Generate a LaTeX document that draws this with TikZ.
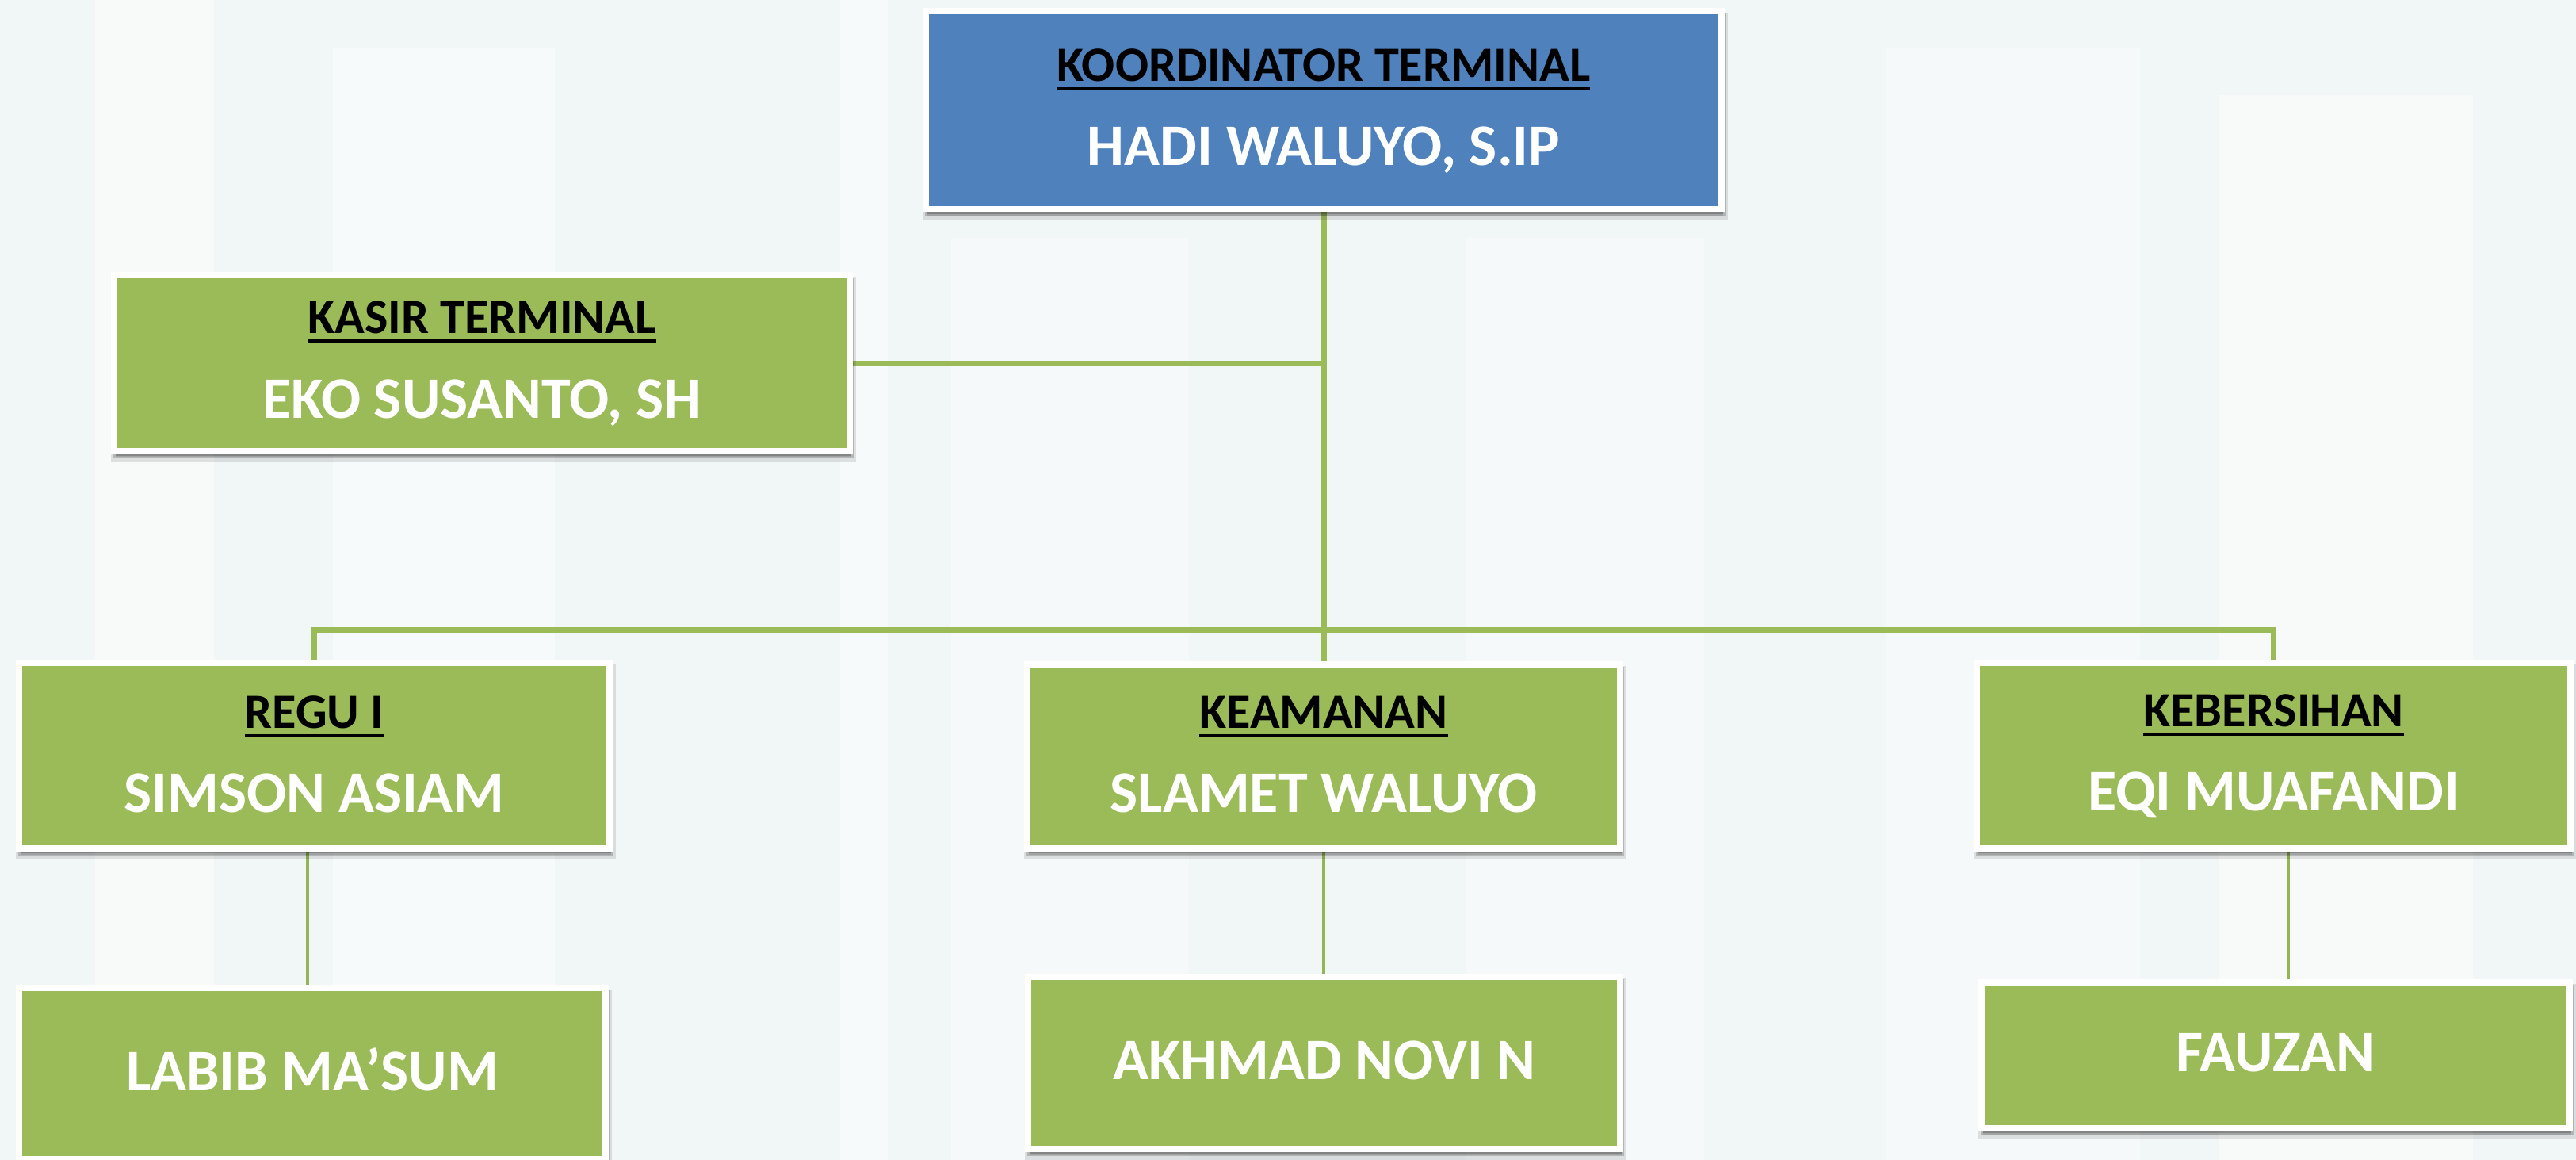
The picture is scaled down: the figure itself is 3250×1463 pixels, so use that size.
\documentclass[tikz,border=0pt]{standalone}
\usepackage{fontspec}
\setmainfont{Carlito}
\usetikzlibrary{shadows,calc}
\definecolor{kblue}{HTML}{4F81BD}
\definecolor{kgreen}{HTML}{9BBB59}
\definecolor{kline}{HTML}{93B553}
\definecolor{kbg}{HTML}{F1F6F6}
\pgfdeclarelayer{bglayer}
\pgfdeclarelayer{lines}
\pgfsetlayers{bglayer,lines,main}
\newcommand{\ulbar}[1]{\setbox0=\hbox{#1}\rlap{\rule[-0.115cm]{\wd0}{0.035cm}}\box0}
\tikzset{
  box/.style={rectangle, draw=white, line width=0.08cm, fill=kgreen, inner sep=0pt,
    general shadow={fill=black, draw=black, line width=0.12cm, opacity=0.10, shadow xshift=0.02cm, shadow yshift=-0.08cm},
    general shadow={fill=black, draw=black, line width=0.06cm, opacity=0.18, shadow xshift=0.02cm, shadow yshift=-0.06cm}},
  topbox/.style={box, fill=kblue},
  titletext/.style={anchor=base, inner sep=0pt, text=black, font=\fontsize{17.7pt}{20pt}\selectfont\bfseries},
  nametext/.style={anchor=base, inner sep=0pt, text=white, font=\fontsize{21.1pt}{24pt}\selectfont\bfseries},
  conn/.style={draw=kgreen, line width=0.07cm},
  connlow/.style={draw=kline, line width=0.045cm},
}
\begin{document}
\begin{tikzpicture}[x=0.01cm, y=-0.01cm]
\useasboundingbox (0,0) rectangle (3250,1463);
\begin{pgfonlayer}{bglayer}
  \fill[kbg] (0,0) rectangle (3250,1463);
  \fill[white, opacity=0.55] (120,0) rectangle (270,1463);
  \fill[white, opacity=0.45] (420,60) rectangle (700,1463);
  \fill[white, opacity=0.45] (1060,0) rectangle (1120,1463);
  \fill[white, opacity=0.4] (2380,60) rectangle (2700,1463);
  \fill[white, opacity=0.55] (2800,120) rectangle (3120,1463);
  \fill[white, opacity=0.35] (1200,300) rectangle (1500,1463);
  \fill[white, opacity=0.35] (1850,300) rectangle (2150,1463);
\end{pgfonlayer}

% boxes
\node[topbox, minimum width=10.04cm, minimum height=2.50cm] (top) at (1670,139) {};
\node[box, minimum width=9.28cm, minimum height=2.22cm] (kasir) at (608,458) {};
\node[box, minimum width=7.45cm, minimum height=2.34cm] (regu) at (396.5,953) {};
\node[box, minimum width=7.48cm, minimum height=2.32cm] (keam) at (1670,954) {};
\node[box, minimum width=7.49cm, minimum height=2.34cm] (keb) at (2868.5,953) {};
\node[box, minimum width=7.40cm, minimum height=2.16cm] (labib) at (394,1354) {};
\node[box, minimum width=7.47cm, minimum height=2.17cm] (akhmad) at (1670.5,1340.5) {};
\node[box, minimum width=7.42cm, minimum height=1.84cm] (fauzan) at (2871,1331) {};

% texts
\node[titletext] (t1) at (top.center |- 0,102) {\ulbar{KOORDINATOR TERMINAL}};
\node[nametext] (n1) at (top.center |- 0,208) {HADI WALUYO, S.IP};
\node[titletext] (t2) at (kasir.center |- 0,420) {\ulbar{KASIR TERMINAL}};
\node[nametext] (n2) at (kasir.center |- 0,527) {EKO SUSANTO, SH};
\node[titletext] (t3) at (regu.center |- 0,918) {\ulbar{REGU I}};
\node[nametext] (n3) at (regu.center |- 0,1024) {SIMSON ASIAM};
\node[titletext] (t4) at (keam.center |- 0,918) {\ulbar{KEAMANAN}};
\node[nametext] (n4) at (keam.center |- 0,1024) {SLAMET WALUYO};
\node[titletext] (t5) at (keb.center |- 0,916) {\ulbar{KEBERSIHAN}};
\node[nametext] (n5) at (keb.center |- 0,1022) {EQI MUAFANDI};
\node[nametext] (n6) at (labib.center |- 0,1375) {LABIB MA’SUM};
\node[nametext] (n7) at (akhmad.center |- 0,1361) {AKHMAD NOVI N};
\node[nametext] (n8) at (fauzan.center |- 0,1351) {FAUZAN};

% connectors
\coordinate (bus) at (0,794);
\coordinate (fz) at ([xshift=0.16cm]fauzan.north);
\coordinate (lb) at ([xshift=-0.06cm]labib.north);
\begin{pgfonlayer}{lines}
  \draw[conn] (top.south) -- (keam.north);
  \draw[conn] (kasir.east) -- (kasir.east -| top.south);
  \draw[conn] (regu.north) -- (regu.north |- bus) -- (keb.north |- bus) -- (keb.north);
  \draw[connlow] (lb |- regu.south) -- (lb);
  \draw[connlow] (keam.south) -- (keam.south |- akhmad.north);
  \draw[connlow] (fz |- keb.south) -- (fz);
\end{pgfonlayer}
\end{tikzpicture}
\end{document}
